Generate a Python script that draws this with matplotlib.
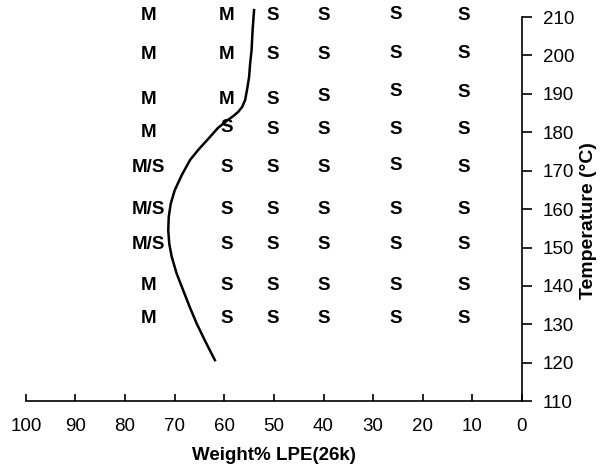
import matplotlib.pyplot as plt
import numpy as np

plt.rcParams['font.family'] = ['Liberation Sans', 'DejaVu Sans']

# Phasen-Markierungen (M = mischbar, S = separiert)
col_wt = [75.2, 59.5, 50.3, 40.0, 25.5, 11.8]
row_labels = [
    ["M", "M", "S", "S", "S", "S"],
    ["M", "M", "S", "S", "S", "S"],
    ["M", "M", "S", "S", "S", "S"],
    ["M", "S", "S", "S", "S", "S"],
    ["M/S", "S", "S", "S", "S", "S"],
    ["M/S", "S", "S", "S", "S", "S"],
    ["M/S", "S", "S", "S", "S", "S"],
    ["M", "S", "S", "S", "S", "S"],
    ["M", "S", "S", "S", "S", "S"],
]
row_temp = [
    [210.4, 210.4, 210.4, 210.4, 210.6, 210.4],
    [200.2, 200.2, 200.2, 200.2, 200.6, 200.4],
    [188.4, 188.4, 188.6, 189.2, 190.6, 190.4],
    [179.9, 181.3, 180.6, 180.8, 180.8, 180.8],
    [170.8, 170.8, 170.8, 170.8, 171.4, 170.8],
    [159.8, 159.8, 159.8, 159.8, 159.8, 159.8],
    [150.8, 150.8, 150.8, 150.8, 150.8, 150.8],
    [140.0, 140.0, 140.0, 140.0, 140.0, 140.0],
    [131.5, 131.5, 131.5, 131.5, 131.5, 131.5],
]

# Phasengrenze (Binodale)
curve_wt = [54.0, 54.3, 54.5, 54.8, 55.0, 55.4, 55.8, 56.4, 57.2, 58.2, 59.3, 61.3,
            63.3, 65.2, 66.9, 68.6, 70.0, 70.8, 71.2, 71.3, 71.1, 70.6, 69.6, 68.3,
            67.0, 65.6, 63.8, 61.9]
curve_temp = [211.8, 206.5, 201.4, 197.8, 194.4, 191.2, 188.4, 186.6, 185.3, 184.2, 183.2, 181.1,
              178.2, 175.5, 172.8, 168.8, 164.9, 161.4, 158.0, 154.5, 151.0, 147.6, 143.2, 138.9,
              134.6, 130.3, 125.5, 120.7]

fig = plt.figure(figsize=(6.02, 4.66), dpi=100)
ax = fig.add_axes([0.043, 0.139, 0.824, 0.8245])

ax.plot(curve_wt, curve_temp, color='black', linewidth=1.8, clip_on=False)

for i, labels in enumerate(row_labels):
    for j, lab in enumerate(labels):
        ax.text(col_wt[j], row_temp[i][j], lab, ha='center', va='center',
                fontsize=13.5, fontweight='bold')

ax.set_xlim(100, 0)
ax.set_ylim(110, 210)
ax.set_xticks(np.arange(100, -1, -10))
ax.set_yticks(np.arange(110, 211, 10))

ax.spines['top'].set_visible(False)
ax.spines['left'].set_visible(False)
ax.spines['bottom'].set_linewidth(1.2)
ax.spines['right'].set_linewidth(1.2)
ax.yaxis.tick_right()
ax.yaxis.set_label_position('right')
ax.tick_params(axis='x', direction='in', length=5, width=1.2, labelsize=13.5, pad=12)
ax.tick_params(axis='y', direction='out', length=7, width=1.2, labelsize=13.5, pad=8)

ax.set_xlabel('Weight% LPE(26k)', fontsize=13.5, fontweight='bold', labelpad=9)
ax.set_ylabel('Temperature (°C)', fontsize=14, fontweight='bold')
ax.yaxis.set_label_coords(1.118, 0.47)

fig.savefig('out.png', dpi=100)
